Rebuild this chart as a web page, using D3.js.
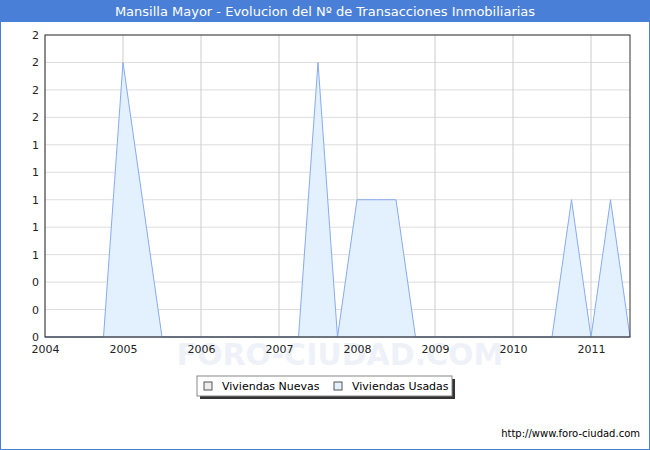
<!DOCTYPE html>
<html><head><meta charset="utf-8">
<script src="https://cdn.jsdelivr.net/npm/d3@7"></script>
<style>body{margin:0;background:#fff}</style>
</head><body><div id="chart"></div>
<script>
// quarterly data
var quarters = [];
for (var q = 0; q <= 30; q++) quarters.push(2004 + q * 0.25);
var usadas = [0,0,0,0, 2,1,0,0, 0,0,0,0, 0,0,0,0, 0,0,0,0, 0,0,0,0, 0,0,0,0, 0,0,0];
// set the non-zero quarters
var usadasVals = {2005:2, 2005.25:1, 2007.5:2, 2008:1, 2008.25:1, 2008.5:1, 2010.75:1, 2011.25:1};
usadas = quarters.map(function(t){ return usadasVals[t] || 0; });
var nuevas = quarters.map(function(){ return 0; });
var yearTicks = [2004,2005,2006,2007,2008,2009,2010,2011];
var yTicks = [0,0.2,0.4,0.6,0.8,1,1.2,1.4,1.6,1.8,2,2.2];

var svg = d3.select('#chart').append('svg').attr('width',650).attr('height',450);
svg.append('rect').attr('x',0.5).attr('y',0.5).attr('width',649).attr('height',449)
  .attr('fill','#fff').attr('stroke','#4a7fd8');
svg.append('rect').attr('x',0).attr('y',0).attr('width',650).attr('height',22).attr('fill','#4a7fd8');
svg.append('text').attr('x',325).attr('y',16).attr('text-anchor','middle')
  .attr('font-family','Verdana, DejaVu Sans, sans-serif').attr('font-size',13).attr('fill','#fff')
  .text('Mansilla Mayor - Evolucion del Nº de Transacciones Inmobiliarias');

var x = d3.scaleLinear().domain([2004,2011.5]).range([45,630]);
var y = d3.scaleLinear().domain([0,2.2]).range([337,35]);

svg.append('text').attr('x',340).attr('y',365).attr('text-anchor','middle')
  .attr('font-family','Verdana, DejaVu Sans, sans-serif').attr('font-size',30)
  .attr('fill','#eef2f8').attr('font-weight','bold').text('FORO-CIUDAD.COM');

var g = svg.append('g');
g.selectAll('.hg').data(yTicks).enter().append('line')
  .attr('x1',45).attr('x2',630).attr('y1',function(d){return y(d);}).attr('y2',function(d){return y(d);})
  .attr('stroke','#dddddd');
g.selectAll('.vg').data(yearTicks).enter().append('line')
  .attr('x1',function(d){return x(d);}).attr('x2',function(d){return x(d);}).attr('y1',35).attr('y2',337)
  .attr('stroke','#cccccc');

var area = d3.area().x(function(d,i){return x(quarters[i]);}).y0(y(0)).y1(function(d){return y(d);});
g.append('path').datum(usadas).attr('d',area).attr('fill','#e3f0fd').attr('stroke','#88aaee').attr('stroke-width',1);
g.append('path').datum(nuevas).attr('d',area).attr('fill','none').attr('stroke','#999').attr('stroke-width',0.5);

g.append('rect').attr('x',45).attr('y',35).attr('width',585).attr('height',302)
  .attr('fill','none').attr('stroke','#333');

var fmt = function(d){ return Math.round(d + 0.001 * (d > 1.5 ? 0 : 0)) ; };
var yl = [0,0,0,1,1,1,1,1,2,2,2,2];
svg.append('g').attr('transform','translate(45,0)')
  .call(d3.axisLeft(y).tickValues(yTicks).tickSize(0).tickPadding(6).tickFormat(function(d,i){return yl[i];}))
  .call(function(a){a.select('.domain').remove();})
  .selectAll('text').attr('font-family','Verdana, DejaVu Sans, sans-serif').attr('font-size',11).attr('fill','#222');
svg.append('g').attr('transform','translate(0,337)')
  .call(d3.axisBottom(x).tickValues(yearTicks).tickSize(0).tickPadding(8).tickFormat(d3.format('d')))
  .call(function(a){a.select('.domain').remove();})
  .selectAll('text').attr('font-family','Verdana, DejaVu Sans, sans-serif').attr('font-size',11).attr('fill','#222');

// legend
var lg = svg.append('g').attr('font-family','Verdana, DejaVu Sans, sans-serif').attr('font-size',11);
lg.append('rect').attr('x',200).attr('y',379).attr('width',255).attr('height',20).attr('fill','#333');
lg.append('rect').attr('x',197).attr('y',376).attr('width',255).attr('height',20).attr('fill','#fff').attr('stroke','#888');
var items = [{t:'Viviendas Nuevas',c:'#eeeeee',x:204},{t:'Viviendas Usadas',c:'#e3f0fd',x:334}];
items.forEach(function(it){
  lg.append('rect').attr('x',it.x).attr('y',382).attr('width',8).attr('height',8).attr('fill',it.c).attr('stroke','#555');
  lg.append('text').attr('x',it.x+18).attr('y',390).text(it.t);
});
svg.append('text').attr('x',640).attr('y',437).attr('text-anchor','end')
  .attr('font-family','Verdana, DejaVu Sans, sans-serif').attr('font-size',10).text('http://www.foro-ciudad.com');
</script></body></html>
